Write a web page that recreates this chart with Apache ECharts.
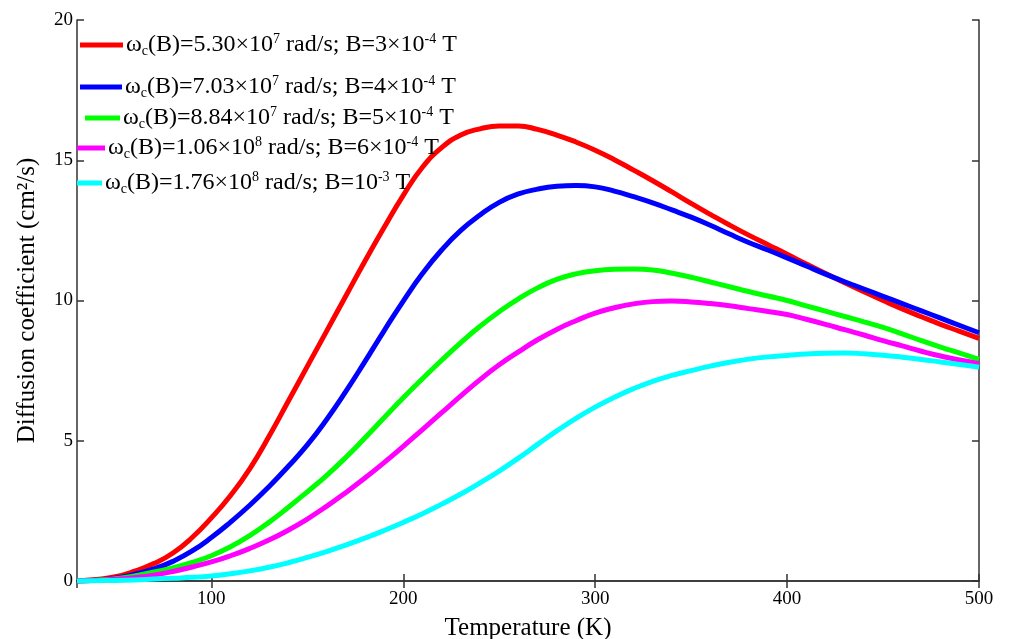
<!DOCTYPE html>
<html>
<head>
<meta charset="utf-8">
<script src="https://cdn.jsdelivr.net/npm/echarts@6/dist/echarts.min.js"></script>
<style>
html,body{margin:0;padding:0;background:#fff;}
#main{width:1011px;height:639px;}
</style>
</head>
<body>
<div id="main"></div>
<script>
// Temperature (K), every 10 K from 30 to 500
var temperatures = [30,40,50,60,70,80,90,100,110,120,130,140,150,160,170,180,190,200,210,220,230,240,250,260,270,280,290,300,310,320,330,340,350,360,370,380,390,400,410,420,430,440,450,460,470,480,490,500];
// Diffusion coefficient (cm^2/s)
var redValues = [0,0.05,0.15,0.35,0.62,1.0,1.55,2.25,3.05,4.0,5.15,6.4,7.65,8.9,10.15,11.4,12.6,13.75,14.75,15.45,15.9,16.12,16.22,16.22,16.1,15.9,15.65,15.36,15.02,14.65,14.27,13.87,13.46,13.07,12.69,12.33,11.99,11.65,11.3,10.96,10.63,10.31,10.0,9.7,9.42,9.15,8.9,8.65];
var blueValues = [0,0.03,0.1,0.24,0.43,0.7,1.07,1.55,2.1,2.7,3.36,4.08,4.85,5.75,6.75,7.82,8.92,9.98,10.96,11.8,12.5,13.05,13.5,13.8,13.97,14.07,14.1,14.05,13.9,13.7,13.48,13.23,12.97,12.68,12.37,12.07,11.8,11.52,11.23,10.94,10.67,10.41,10.15,9.89,9.63,9.37,9.11,8.85];
var greenValues = [0,0.03,0.08,0.18,0.32,0.47,0.66,0.9,1.22,1.62,2.09,2.62,3.18,3.76,4.4,5.1,5.82,6.53,7.21,7.87,8.5,9.08,9.6,10.06,10.45,10.75,10.95,11.06,11.11,11.12,11.09,10.97,10.83,10.66,10.49,10.32,10.16,10.0,9.81,9.62,9.43,9.24,9.04,8.81,8.57,8.34,8.12,7.9];
var magentaValues = [0,0.02,0.06,0.12,0.21,0.34,0.5,0.68,0.9,1.16,1.46,1.81,2.21,2.66,3.15,3.67,4.22,4.8,5.4,6.0,6.6,7.18,7.71,8.17,8.6,8.97,9.28,9.55,9.74,9.88,9.96,9.98,9.95,9.89,9.81,9.71,9.61,9.5,9.33,9.15,8.96,8.77,8.57,8.38,8.19,8.02,7.88,7.75];
var cyanValues = [0,0.01,0.02,0.04,0.07,0.1,0.13,0.18,0.26,0.36,0.49,0.65,0.84,1.05,1.28,1.53,1.8,2.09,2.4,2.74,3.1,3.5,3.92,4.38,4.87,5.35,5.8,6.2,6.55,6.86,7.12,7.33,7.5,7.66,7.8,7.91,7.99,8.04,8.09,8.12,8.13,8.1,8.05,7.98,7.9,7.81,7.72,7.62];

var seriesNames = [
  'ωc(B)=5.30×10^7 rad/s; B=3×10^-4 T',
  'ωc(B)=7.03×10^7 rad/s; B=4×10^-4 T',
  'ωc(B)=8.84×10^7 rad/s; B=5×10^-4 T',
  'ωc(B)=1.06×10^8 rad/s; B=6×10^-4 T',
  'ωc(B)=1.76×10^8 rad/s; B=10^-3 T'
];
var legendRich = [
  '{n|ω}{sub|c}{n|(B)=5.30×10}{sup|7}{n| rad/s; B=3×10}{sup|-4}{n| T}',
  '{n|ω}{sub|c}{n|(B)=7.03×10}{sup|7}{n| rad/s; B=4×10}{sup|-4}{n| T}',
  '{n|ω}{sub|c}{n|(B)=8.84×10}{sup|7}{n| rad/s; B=5×10}{sup|-4}{n| T}',
  '{n|ω}{sub|c}{n|(B)=1.06×10}{sup|8}{n| rad/s; B=6×10}{sup|-4}{n| T}',
  '{n|ω}{sub|c}{n|(B)=1.76×10}{sup|8}{n| rad/s; B=10}{sup|-3}{n| T}'
];
var colors = ['#ff0000','#0000ff','#00ff00','#ff00ff','#00ffff'];
var valueSets = [redValues, blueValues, greenValues, magentaValues, cyanValues];
var xTickLabels = ['100','200','300','400','500'];
var yTickLabels = ['0','5','10','15','20'];

var legendPos = [
  {left: 80, top: 32, w: 43},
  {left: 80, top: 74, w: 42},
  {left: 85, top: 105, w: 35},
  {left: 77, top: 135, w: 28},
  {left: 77, top: 170, w: 25}
];

var serif = '"Liberation Serif","Times New Roman",serif';
var richStyles = {
  n: {fontSize: 24, fontFamily: serif, color: '#000', lineHeight: 26, verticalAlign: 'middle'},
  sub: {fontSize: 14, fontFamily: serif, color: '#000', lineHeight: 26, verticalAlign: 'bottom'},
  sup: {fontSize: 14, fontFamily: serif, color: '#000', lineHeight: 26, verticalAlign: 'top'}
};

var legends = seriesNames.map(function(nm, i){
  return {
    data: [nm],
    left: legendPos[i].left,
    top: legendPos[i].top,
    orient: 'vertical',
    icon: 'rect',
    itemWidth: legendPos[i].w,
    itemHeight: 5,
    itemGap: 0,
    padding: 0,
    selectedMode: false,
    formatter: function(){ return legendRich[i]; },
    textStyle: {rich: richStyles, padding: [0,0,0,-2]}
  };
});

var series = seriesNames.map(function(nm, i){
  return {
    name: nm,
    type: 'line',
    smooth: 0.5,
    showSymbol: false,
    symbol: 'none',
    data: temperatures.map(function(t, k){ return [t, valueSets[i][k]]; }),
    lineStyle: {color: colors[i], width: 5},
    itemStyle: {color: colors[i]},
    z: 2 + i
  };
});

var axisLineStyle = {show: true, lineStyle: {color: '#333', width: 1.5}};
var tickStyle = {show: true, inside: true, length: 7, lineStyle: {color: '#333', width: 1.5}};

var chart = echarts.init(document.getElementById('main'));
chart.setOption({
  backgroundColor: '#fff',
  animation: false,
  legend: legends,
  grid: {left: 77, right: 32, top: 20, bottom: 58, containLabel: false, outerBoundsMode: 'none'},
  xAxis: [{
    type: 'value', min: 30, max: 500, position: 'bottom',
    name: 'Temperature (K)', nameLocation: 'middle', nameGap: 35,
    nameTextStyle: {fontFamily: serif, fontSize: 25, color: '#000'},
    axisLine: axisLineStyle, axisTick: tickStyle, splitLine: {show: false},
    axisLabel: {fontFamily: serif, fontSize: 19, color: '#000', margin: 9, showMinLabel: false,
      formatter: function(v){ var s = String(v); return xTickLabels.indexOf(s) >= 0 ? s : ''; }}
  },{
    type: 'value', min: 30, max: 500, position: 'top',
    axisLine: axisLineStyle, axisTick: tickStyle, splitLine: {show: false}, axisLabel: {show: false}
  }],
  yAxis: [{
    type: 'value', min: 0, max: 20, interval: 5, position: 'left',
    name: 'Diffusion coefficient (cm²/s)', nameLocation: 'middle', nameGap: 37, nameRotate: 90,
    nameTextStyle: {fontFamily: serif, fontSize: 25, color: '#000'},
    axisLine: axisLineStyle, axisTick: tickStyle, splitLine: {show: false},
    axisLabel: {fontFamily: serif, fontSize: 19, color: '#000', margin: 4,
      formatter: function(v){ var s = String(v); return yTickLabels.indexOf(s) >= 0 ? s : ''; }}
  },{
    type: 'value', min: 0, max: 20, interval: 5, position: 'right',
    axisLine: axisLineStyle, axisTick: tickStyle, splitLine: {show: false}, axisLabel: {show: false}
  }],
  series: series
});
</script>
</body>
</html>
